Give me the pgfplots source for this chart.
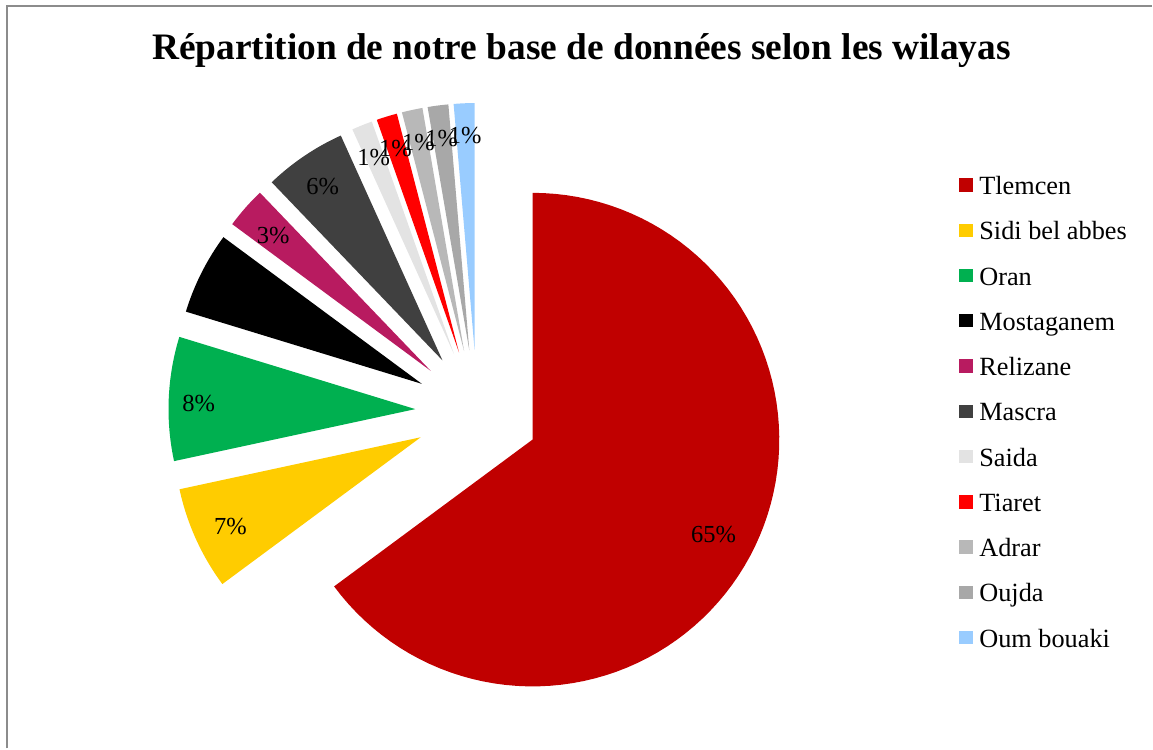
\documentclass[border=0pt]{standalone}
\usepackage{fontspec}
\setmainfont{Liberation Serif}
\usepackage{pgfplots}
\pgfplotsset{compat=1.18}
\definecolor{cTlemcen}{HTML}{C00000}
\definecolor{cSidi}{HTML}{FFCC00}
\definecolor{cOran}{HTML}{00B050}
\definecolor{cMosta}{HTML}{000000}
\definecolor{cReli}{HTML}{B81B60}
\definecolor{cMascra}{HTML}{404040}
\definecolor{cSaida}{HTML}{E3E3E3}
\definecolor{cTiaret}{HTML}{FF0000}
\definecolor{cAdrar}{HTML}{B8B8B8}
\definecolor{cOujda}{HTML}{A8A8A8}
\definecolor{cOum}{HTML}{99CCFF}
\definecolor{frame}{HTML}{8C8C8C}
% pie geometry (1 unit = 1 px of the reference)
\def\N{74}      % total count
\def\Cx{477.6}  % pie centre
\def\Cy{336.9}
\def\R{247}     % radius
\def\D{62}      % explosion distance
\newcommand{\labelfont}{\fontsize{24.5}{24.5}\selectfont}
% #1 cumulative start, #2 value, #3 colour, #4 legend, #5 label text, #6 label distance
\newcommand{\slice}[6]{%
  \addplot[fill=#3, draw=none, domain=90-360*(#1+#2)/\N:90-360*(#1)/\N, samples=90, variable=\t]
    ({\Cx+\D*cos(90-180*(2*#1+#2)/\N)+\R*cos(\t)},{\Cy+\D*sin(90-180*(2*#1+#2)/\N)+\R*sin(\t)})
    -- (axis cs:{\Cx+\D*cos(90-180*(2*#1+#2)/\N)},{\Cy+\D*sin(90-180*(2*#1+#2)/\N)}) -- cycle;
  \addlegendentry{#4}
  \node[font=\labelfont, inner sep=0pt, yshift=-3.5pt] at (axis cs:{\Cx+(\D+#6)*cos(90-180*(2*#1+#2)/\N)},{\Cy+(\D+#6)*sin(90-180*(2*#1+#2)/\N)}) {#5};
}
\begin{document}
\begin{tikzpicture}
\begin{axis}[
  x=1pt, y=1pt,
  xmin=0, xmax=1153, ymin=0, ymax=749,
  hide axis, clip=false,
  legend cell align=left,
  legend style={at={(axis description cs:0.8326,0.767)}, anchor=north west,
    draw=none, fill=none, inner sep=0pt,
    font=\fontsize{26.3}{26.3}\selectfont,
    row sep=19.3pt, column sep=6.7pt,
    nodes={inner sep=0pt, text height=20pt, text depth=6pt}},
  legend image code/.code={\fill[#1] (0pt,-4.15pt) rectangle (13.3pt,9.15pt);},
]
\path (axis cs:0,0) rectangle (axis cs:1153,749);
\draw[frame, line width=2pt] (axis cs:7.5,0) -- (axis cs:7.5,743) -- (axis cs:1153,743);
\node[font=\bfseries\fontsize{37.4}{40}\selectfont, anchor=base] at (axis cs:582,689)
  {Répartition de notre base de données selon les wilayas};
% start  value colour   legend            label   dist
\slice{0}{48}{cTlemcen}{Tlemcen}{65\%}{203}
\slice{48}{5}{cSidi}{Sidi bel abbes}{7\%}{209}
\slice{53}{6}{cOran}{Oran}{8\%}{217}
\slice{59}{4}{cMosta}{Mostaganem}{5\%}{212}
\slice{63}{2}{cReli}{Relizane}{3\%}{210}
\slice{65}{4}{cMascra}{Mascra}{6\%}{214}
\slice{69}{1}{cSaida}{Saida}{1\%}{216}
\slice{70}{1}{cTiaret}{Tiaret}{1\%}{217}
\slice{71}{1}{cAdrar}{Adrar}{1\%}{217}
\slice{72}{1}{cOujda}{Oujda}{1\%}{217}
\slice{73}{1}{cOum}{Oum bouaki}{1\%}{218}
\end{axis}
\end{tikzpicture}
\end{document}
